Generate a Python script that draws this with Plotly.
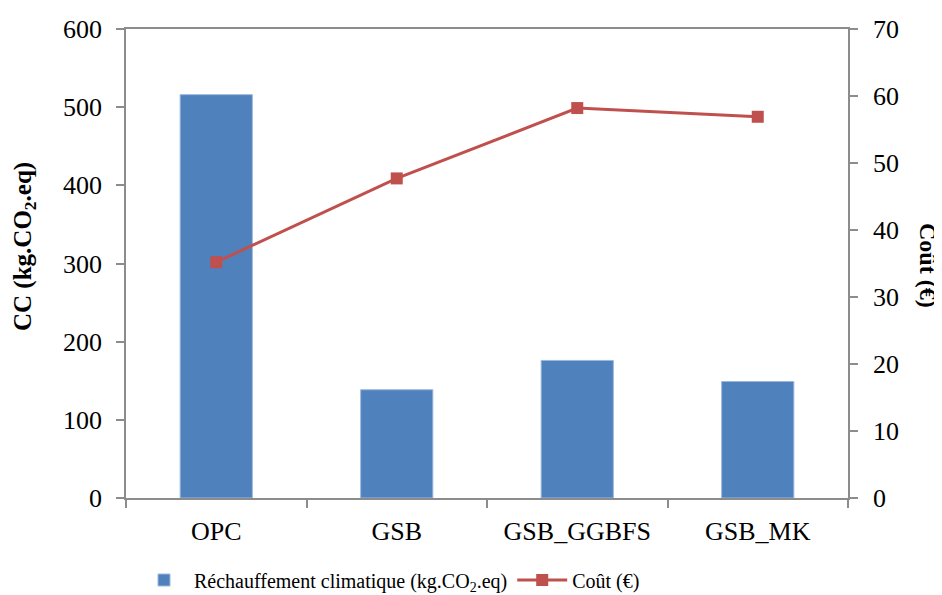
import plotly.graph_objects as go

categories = ["OPC", "GSB", "GSB_GGBFS", "GSB_MK"]
cc_values = [516, 138.5, 176, 149]
cout_values = [35.2, 47.7, 58.2, 56.9]

bar_name = "Réchauffement climatique (kg.CO<sub>2</sub>.eq)"
line_name = "Coût (€)"

FONT = "Liberation Serif"
AXIS_GREY = "#8c8c8c"

# page body has an 8px margin; compensate so the plot area lands where the reference has it
OFF = 8
W, H = 942, 595
L, R, T, B = 126 - OFF, W - (848 - OFF), 29 - OFF, H - (498 - OFF)
PW, PH = 848 - 126, 498 - 29

fig = go.Figure()
fig.add_trace(go.Bar(
    x=categories, y=cc_values, name=bar_name,
    marker=dict(color="#4F81BD", line=dict(color="#9cb8dc", width=1)),
    width=0.4, yaxis="y",
))
fig.add_trace(go.Scatter(
    x=categories, y=cout_values, name=line_name, mode="lines+markers",
    line=dict(color="#C0504D", width=3),
    marker=dict(symbol="square", size=12, color="#C0504D"),
    yaxis="y2",
))

fig.update_layout(
    width=W, height=H,
    margin=dict(l=L, r=R, t=T, b=B, autoexpand=False),
    paper_bgcolor="white", plot_bgcolor="white",
    font=dict(family=FONT, color="black", size=26),
    xaxis=dict(
        type="category", showline=True, linecolor=AXIS_GREY, linewidth=1.5,
        mirror=True, ticks="outside", tickson="boundaries", ticklen=8,
        tickcolor=AXIS_GREY, tickwidth=1.5, showgrid=False,
        tickfont=dict(size=26, family=FONT), ticklabelstandoff=9,
    ),
    yaxis=dict(
        range=[0, 600], dtick=100, showline=True, linecolor=AXIS_GREY,
        linewidth=1.5, ticks="outside", ticklen=8, tickcolor=AXIS_GREY,
        tickwidth=1.5, showgrid=False, zeroline=False,
        tickfont=dict(size=26, family=FONT), ticklabelstandoff=9,
    ),
    yaxis2=dict(
        range=[0, 70], dtick=10, overlaying="y", side="right",
        showline=True, linecolor=AXIS_GREY, linewidth=1.5, ticks="outside",
        ticklen=8, tickcolor=AXIS_GREY, tickwidth=1.5, showgrid=False,
        zeroline=False, tickfont=dict(size=26, family=FONT), ticklabelstandoff=10,
    ),
    legend=dict(
        orientation="h", xref="container", yref="container",
        x=(134 - OFF) / W, xanchor="left", y=(H - (580 - OFF)) / H, yanchor="middle",
        font=dict(size=20, family=FONT), itemwidth=50,
        traceorder="normal", bgcolor="rgba(0,0,0,0)",
    ),
    annotations=[
        dict(text="<b>CC (kg.CO<sub>2</sub>.eq)</b>", textangle=-90,
             xref="paper", yref="paper", x=(25 - 126) / PW, y=(498 - 247) / PH,
             xanchor="center", yanchor="middle", showarrow=False,
             font=dict(size=25, family=FONT)),
        dict(text="<b>Coût (€)</b>", textangle=90,
             xref="paper", yref="paper", x=(928 - 126) / PW, y=(498 - 265) / PH,
             xanchor="center", yanchor="middle", showarrow=False,
             font=dict(size=24, family=FONT)),
    ],
)

fig.write_html("out.html")
